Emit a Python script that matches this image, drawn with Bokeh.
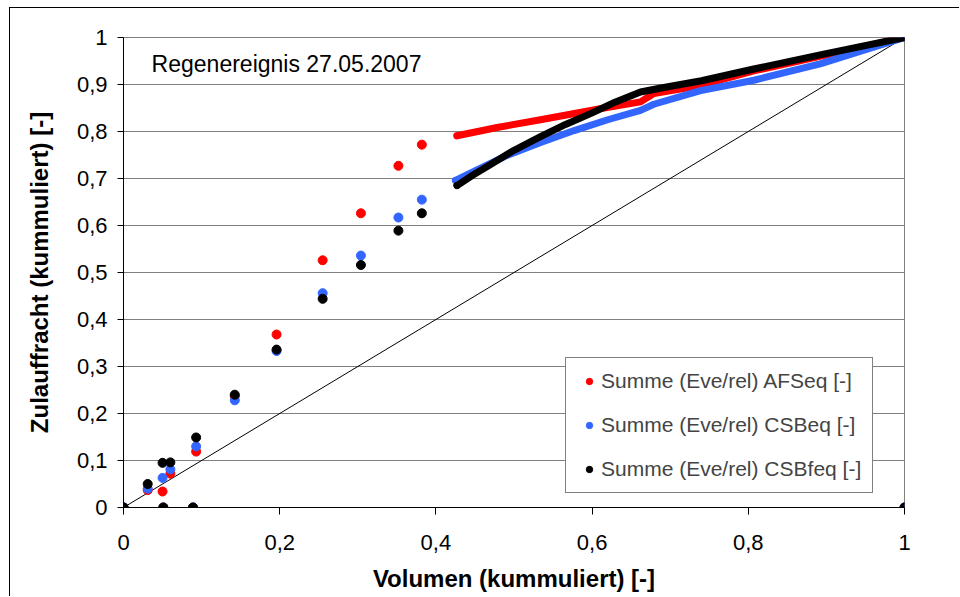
from bokeh.plotting import figure
from bokeh.models import Range1d, FixedTicker, Label, Legend, LegendItem
from bokeh.embed import file_html
from bokeh.resources import INLINE

# ---------------- data ----------------
series_names = ["Summe (Eve/rel) AFSeq [-]", "Summe (Eve/rel) CSBeq [-]", "Summe (Eve/rel) CSBfeq [-]"]
title_text = "Regenereignis 27.05.2007"
x_label = "Volumen (kummuliert) [-]"
y_label = "Zulauffracht (kummuliert) [-]"

# isolated points (single events)
pts_x = [0.0, 0.031, 0.050, 0.060, 0.093, 0.1425, 0.196, 0.255, 0.304, 0.352, 0.382]
afs_y = [0.0, 0.037, 0.034, 0.072, 0.119, 0.237, 0.368, 0.526, 0.626, 0.727, 0.772]
csb_y = [0.0, 0.040, 0.063, 0.081, 0.130, 0.228, 0.333, 0.456, 0.536, 0.617, 0.655]
csbf_y = [0.0, 0.050, 0.095, 0.096, 0.149, 0.240, 0.336, 0.444, 0.516, 0.589, 0.626]

# points lying on the zero line
zero_x = [0.0, 0.051, 0.089, 1.0]
zero_y = [0.0, 0.0, 0.0, 0.0]

# dense part of the cumulative curves
afs_cx = [0.427, 0.480, 0.534, 0.619, 0.662, 0.679, 0.739, 0.807, 0.892, 1.0]
afs_cy = [0.791, 0.809, 0.825, 0.851, 0.863, 0.881, 0.898, 0.929, 0.960, 1.0]
csb_cx = [0.425, 0.450, 0.491, 0.535, 0.577, 0.620, 0.662, 0.679, 0.739, 0.807, 0.892, 1.0]
csb_cy = [0.696, 0.716, 0.749, 0.777, 0.802, 0.825, 0.845, 0.858, 0.887, 0.909, 0.944, 1.0]
csbf_cx = [0.427, 0.447, 0.470, 0.500, 0.534, 0.566, 0.598, 0.630, 0.662, 0.690, 0.740, 0.807, 0.892, 1.0]
csbf_cy = [0.685, 0.707, 0.730, 0.760, 0.789, 0.815, 0.838, 0.863, 0.884, 0.893, 0.908, 0.933, 0.963, 1.0]

diag_x = [0.0, 1.0]
diag_y = [0.0, 1.0]

x_ticks = [0.0, 0.2, 0.4, 0.6, 0.8, 1.0]
x_tick_labels = ["0", "0,2", "0,4", "0,6", "0,8", "1"]
y_ticks = [0.0, 0.1, 0.2, 0.3, 0.4, 0.5, 0.6, 0.7, 0.8, 0.9, 1.0]
y_tick_labels = ["0", "0,1", "0,2", "0,3", "0,4", "0,5", "0,6", "0,7", "0,8", "0,9", "1"]

colors = ["#FF0000", "#3366FF", "#000000"]
FONT = "Liberation Sans"

# ---------------- figure ----------------
p = figure(width=950, height=589, output_backend="svg", toolbar_location=None,
           x_range=Range1d(0, 1), y_range=Range1d(0, 1),
           min_border_left=113, min_border_right=56, min_border_top=29, min_border_bottom=90)
p.styles = {"border-left": "1px solid #000000", "border-top": "1px solid #000000",
            "margin-left": "9px", "margin-top": "7px"}

p.outline_line_color = "#808080"
p.outline_line_width = 1
p.xgrid.grid_line_color = None
p.ygrid.grid_line_color = "#808080"
p.ygrid.grid_line_width = 1
p.background_fill_color = "white"
p.border_fill_color = "white"

p.xaxis.ticker = FixedTicker(ticks=x_ticks)
p.yaxis.ticker = FixedTicker(ticks=y_ticks)
p.xaxis.major_label_overrides = dict(zip(x_ticks, x_tick_labels))
p.yaxis.major_label_overrides = dict(zip(y_ticks, y_tick_labels))
p.ygrid.ticker = FixedTicker(ticks=y_ticks)

for ax in (p.xaxis, p.yaxis):
    ax.axis_line_color = "#000000"
    ax.axis_line_width = 1
    ax.major_tick_line_color = "#000000"
    ax.major_tick_in = 0
    ax.minor_tick_line_color = None
    ax.major_label_text_font = FONT
    ax.major_label_text_font_size = "22px"
    ax.major_label_text_color = "#000000"
    ax.axis_label_text_font = FONT
    ax.axis_label_text_font_size = "24px"
    ax.axis_label_text_font_style = "bold"
    ax.axis_label_text_color = "#000000"

p.xaxis.major_tick_out = 7
p.yaxis.major_tick_out = 6
p.xaxis.major_label_standoff = 20
p.yaxis.major_label_standoff = 10
p.xaxis.axis_label = x_label
p.yaxis.axis_label = y_label
p.xaxis.axis_label_standoff = 12
p.yaxis.axis_label_standoff = 21

# diagonal reference line
p.line(diag_x, diag_y, line_color="#000000", line_width=1)

all_y = [afs_y, csb_y, csbf_y]
curves = [(afs_cx, afs_cy), (csb_cx, csb_cy), (csbf_cx, csbf_cy)]
items = []
for name, col, ys, (cx, cy) in zip(series_names, colors, all_y, curves):
    p.line(cx, cy, line_color=col, line_width=7, line_cap="round", line_join="round")
    p.scatter([cx[0], cx[-1]], [cy[0], cy[-1]], size=7, fill_color=col, line_color=None)
    p.scatter(zero_x, zero_y, size=9, fill_color=col, line_color=col)
    r = p.scatter(pts_x, ys, size=9, fill_color=col, line_color=col)
    items.append(LegendItem(label=name, renderers=[r]))

legend = Legend(items=items, location=(442, 14), margin=0,
                label_text_font=FONT, label_text_font_size="21px",
                glyph_width=24, glyph_height=16, label_height=16, label_standoff=0,
                spacing=20, padding=11,
                border_line_color="#000000", border_line_width=1,
                background_fill_color="white", background_fill_alpha=1.0)
p.add_layout(legend, "center")

p.add_layout(Label(x=0.036, y=0.944, text=title_text, text_font=FONT,
                   text_font_size="23px", text_color="#000000",
                   text_baseline="alphabetic"))

open("out.html", "w").write(file_html(p, INLINE))
